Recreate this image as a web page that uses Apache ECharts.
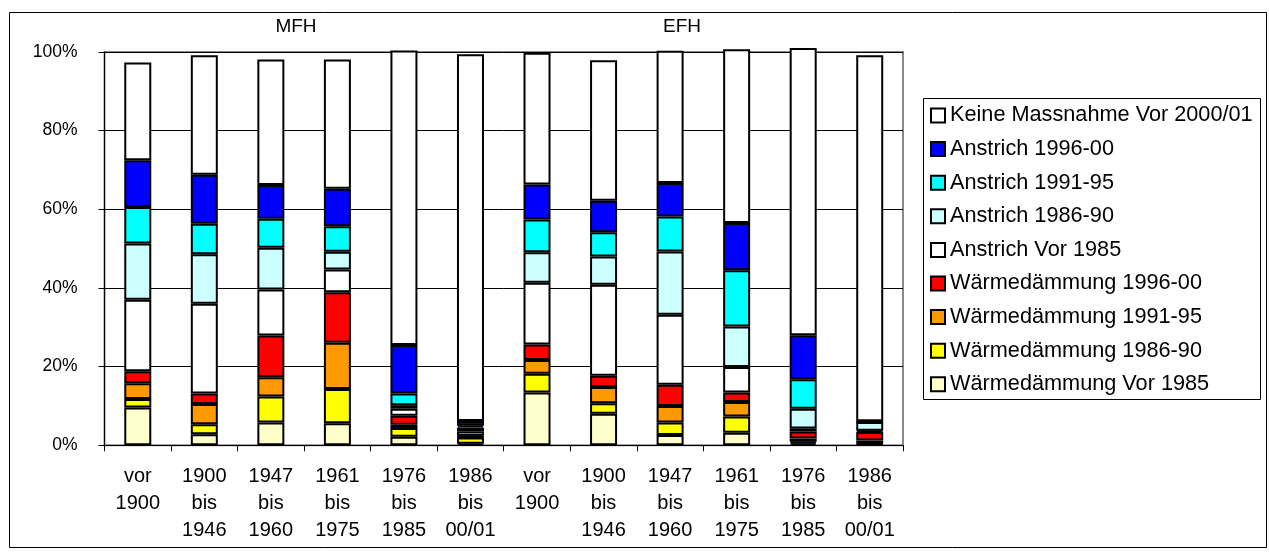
<!DOCTYPE html>
<html>
<head>
<meta charset="utf-8">
<script src="https://cdn.jsdelivr.net/npm/echarts@6/dist/echarts.min.js"></script>
<style>
  html, body { margin: 0; padding: 0; background: #fff; }
  #chart { width: 1269px; height: 560px; }
</style>
</head>
<body>
<div id="chart"></div>
<script>
// Building groups and construction periods (x axis)
const groups = ['MFH', 'EFH'];
const periods = ['vor\n1900', '1900\nbis\n1946', '1947\nbis\n1960', '1961\nbis\n1975', '1976\nbis\n1985', '1986\nbis\n00/01'];

// Y axis tick labels
const yTicks = ['0%', '20%', '40%', '60%', '80%', '100%'];

// Shares in percent, first six values MFH, last six EFH
const wdVor1985   = [9.6, 2.8, 5.8, 5.6, 2.2, 0.4,   13.4, 8.0, 2.6, 3.2, 0.5, 0.2];
const wd1986_90   = [2.2, 2.55, 6.6, 8.7, 2.2, 1.6,  4.8, 2.7, 3.2, 4.1, 0.4, 0.2];
const wd1991_95   = [4.0, 5.15, 4.9, 11.8, 0.8, 0.2, 3.5, 4.1, 4.2, 3.7, 0.8, 0.8];
const wd1996_00   = [3.0, 2.7, 10.6, 12.8, 2.3, 0.2, 3.9, 2.9, 5.4, 2.4, 1.8, 2.2];
const anVor1985   = [18.2, 22.8, 11.7, 5.8, 1.8, 1.2, 15.7, 23.1, 17.8, 6.5, 0.8, 0.3];
const an1986_90   = [14.3, 12.6, 10.6, 4.5, 0.9, 0.9, 7.8, 7.2, 16.1, 10.3, 5.0, 2.2];
const an1991_95   = [9.3, 7.7, 7.4, 6.5, 3.0, 0.5,   8.3, 6.2, 8.9, 14.3, 7.5, 0.1];
const an1996_00   = [11.9, 12.5, 8.6, 9.5, 12.3, 1.2, 8.9, 8.0, 8.5, 12.0, 11.2, 0.1];
const keineVor2000 = [24.8, 30.4, 31.9, 32.9, 74.9, 93.2, 33.5, 35.7, 33.6, 44.2, 73.0, 93.1];

const categories = groups.flatMap(g => periods.map(p => g + '|' + p));

const seriesDefs = [
  { name: 'Wärmedämmung Vor 1985', data: wdVor1985, color: '#FFFFCC' },
  { name: 'Wärmedämmung 1986-90', data: wd1986_90, color: '#FFFF00' },
  { name: 'Wärmedämmung 1991-95', data: wd1991_95, color: '#FF9900' },
  { name: 'Wärmedämmung 1996-00', data: wd1996_00, color: '#FF0000' },
  { name: 'Anstrich Vor 1985', data: anVor1985, color: '#FFFFFF' },
  { name: 'Anstrich 1986-90', data: an1986_90, color: '#CCFFFF' },
  { name: 'Anstrich 1991-95', data: an1991_95, color: '#00FFFF' },
  { name: 'Anstrich 1996-00', data: an1996_00, color: '#0000FF' },
  { name: 'Keine Massnahme Vor 2000/01', data: keineVor2000, color: '#FFFFFF' }
];

const FONT = '"Liberation Sans", Arial, sans-serif';

const chart = echarts.init(document.getElementById('chart'), null, { renderer: 'canvas' });

chart.setOption({
  animation: false,
  backgroundColor: '#fff',
  textStyle: { fontFamily: FONT, color: '#000' },
  grid: {
    left: 104.5, right: 366, top: 52, bottom: 114.7,
    outerBoundsMode: 'none',
    show: true, borderColor: '#888', borderWidth: 2, backgroundColor: 'transparent'
  },
  legend: {
    orient: 'vertical',
    left: 930, top: 104.5,
    padding: 0,
    itemWidth: 14, itemHeight: 14, itemGap: 11.6,
    icon: 'rect',
    data: seriesDefs.map(s => s.name).reverse(),
    itemStyle: { borderColor: '#000', borderWidth: 2 },
    textStyle: { fontFamily: FONT, fontSize: 21.7, color: '#000', lineHeight: 21 }
  },
  xAxis: {
    type: 'category',
    data: categories,
    axisLine: { lineStyle: { color: '#000', width: 1 } },
    axisTick: { show: true, inside: false, length: 6, lineStyle: { color: '#000' } },
    axisLabel: {
      interval: 0, margin: 17.5,
      fontFamily: FONT, fontSize: 20, lineHeight: 27, color: '#000',
      formatter: v => v.split('|')[1]
    },
    splitLine: { show: false }
  },
  yAxis: {
    type: 'value', min: 0, max: 100, interval: 20,
    axisLine: { show: true, lineStyle: { color: '#000', width: 1 } },
    axisTick: { show: true, length: 6, lineStyle: { color: '#000' } },
    axisLabel: {
      margin: 27, fontFamily: FONT, fontSize: 17.5, color: '#000',
      formatter: v => yTicks[Math.round(v / 20)]
    },
    splitLine: { show: true, lineStyle: { color: '#000', width: 1 } }
  },
  graphic: [
    { type: 'rect', shape: { x: 9.5, y: 12.5, width: 1257, height: 535 },
      style: { fill: 'none', stroke: '#000', lineWidth: 1 }, z: -1 },
    { type: 'rect', shape: { x: 923.5, y: 98.5, width: 337, height: 301 },
      style: { fill: '#fff', stroke: '#000', lineWidth: 1 }, z: -1 },
    { type: 'text', x: 296, y: 27, style: { text: groups[0], font: '19px ' + FONT, fill: '#000', textAlign: 'center', textVerticalAlign: 'middle' } },
    { type: 'text', x: 682, y: 27, style: { text: groups[1], font: '19px ' + FONT, fill: '#000', textAlign: 'center', textVerticalAlign: 'middle' } }
  ],
  series: seriesDefs.map(s => ({
    name: s.name,
    type: 'bar',
    stack: 'share',
    data: s.data,
    barWidth: 27,
    clip: false,
    itemStyle: { color: s.color, borderColor: '#000', borderWidth: 2 },
    emphasis: { disabled: true }
  }))
});
</script>
</body>
</html>
